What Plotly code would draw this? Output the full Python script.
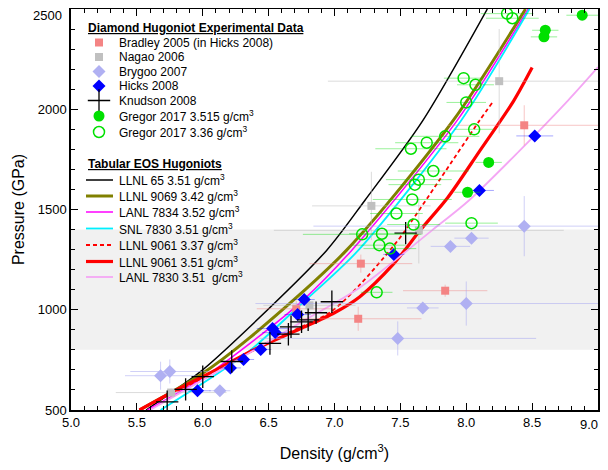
import plotly.graph_objects as go

# ~~~~~~~~~~~~~~~~~~~~~~~~~~~~~~~~~~~~~~~~~~~~~~~~~~~~~~~~~~~~~~~~~~~~~~~~~~~~~~
# experimental diamond Hugoniot points: density (g/cm3), pressure (GPa), errors
bradley_rho = [6.71, 7.18, 7.20, 7.84, 8.44]
bradley_p = [1005, 955, 1230, 1095, 1920]
bradley_drho = [0.30, 0.48, 0.39, 0.32, 0.58]
bradley_dp = [40, 60, 45, 30, 100]

nagao_rho = [5.76, 6.81, 7.28, 7.64, 8.25]
nagao_p = [587, 1022, 1518, 1396, 2140]
nagao_drho = [0.42, 0.35, 0.45, 1.10, 1.30]
nagao_dp = [20, 25, 170, 165, 260]

brygoo_rho = [5.68, 5.75, 6.13, 7.48, 7.67, 7.88, 8.00, 8.04, 8.44]
brygoo_p = [671, 692, 596, 857, 1009, 1316, 1031, 1357, 1417]
brygoo_drho = [0.27, 0.30, 0.08, 1.05, 0.12, 0.15, 1.60, 0.13, 1.60]
brygoo_dp = [70, 60, 10, 85, 15, 15, 110, 15, 150]

hicks_rho = [5.96, 6.21, 6.31, 6.44, 6.53, 6.55, 6.72, 6.77, 7.45, 8.10, 8.52]
hicks_p = [596, 710, 752, 802, 906, 886, 976, 1051, 1276, 1595, 1867]
hicks_drho = [0.10, 0.08, 0.08, 0.08, 0.12, 0.10, 0.10, 0.08, 0.08, 0.11, 0.14]

knudson_rho = [5.73, 5.87, 6.00, 6.22, 6.51, 6.65, 6.67, 6.75, 6.80, 6.86, 6.98, 7.54]
knudson_p = [541, 603, 666, 742, 832, 878, 915, 940, 950, 985, 1040, 1382]

gregor_hi_rho = [8.01, 8.17, 8.59, 8.60, 8.88]
gregor_hi_p = [1586, 1735, 2361, 2394, 2469]
gregor_hi_drho = [0.10, 0.10, 0.10, 0.10, 0.12]

gregor_lo_rho = [7.32, 7.42, 7.34, 7.36, 7.21, 7.60, 7.47, 7.59, 7.61, 7.64, 7.75,
                 7.58, 7.70, 7.84, 8.06, 8.04, 8.00, 7.98, 8.07, 8.31, 8.35]
gregor_lo_p = [1087, 1305, 1322, 1379, 1376, 1425, 1480, 1550, 1624, 1649, 1692,
               1803, 1833, 1865, 1900, 1432, 2034, 2155, 2122, 2477, 2454]
gregor_lo_drho = [0.12, 0.20, 0.20, 0.25, 0.45, 0.20, 0.20, 0.30, 0.20, 0.25, 0.27,
                  0.27, 0.24, 0.26, 0.15, 0.20, 0.15, 0.15, 0.14, 0.20, 0.20]

# tabular EOS Hugoniot curves
llnl65_rho = [5.57, 5.98, 6.33, 6.94, 7.23, 7.67, 8.16]
llnl65_p = [500, 690, 898, 1296, 1545, 1943, 2500]

llnl9069_rho = [5.52, 5.98, 6.35, 7.09, 7.90, 8.45]
llnl9069_p = [500, 674, 857, 1296, 1943, 2500]

lanl7834_rho = [5.58, 6.00, 6.50, 6.76, 7.13, 7.93, 8.47]
lanl7834_p = [500, 660, 905, 1047, 1296, 1943, 2500]

snl7830_rho = [5.68, 6.33, 6.75, 7.18, 7.96, 8.48]
snl7830_p = [500, 782, 1030, 1296, 1943, 2500]

llnl9061_337_rho = [5.52, 6.00, 6.50, 6.97, 7.20, 7.43, 7.51, 7.80, 8.10, 8.20]
llnl9061_337_p = [500, 660, 840, 989, 1130, 1304, 1371, 1650, 1943, 2035]

llnl9061_351_rho = [5.52, 5.80, 6.10, 6.40, 6.74, 7.00, 7.19, 7.45, 7.65, 7.86, 8.10, 8.36, 8.50]
llnl9061_351_p = [500, 600, 700, 805, 905, 985, 1064, 1230, 1396, 1560, 1790, 2042, 2208]

lanl7830_rho = [5.60, 6.20, 6.74, 7.19, 7.74, 8.02, 8.40, 8.77, 9.00]
lanl7830_p = [500, 725, 935, 1110, 1396, 1545, 1790, 2042, 2210]

band_p = [800, 1400]
x_ticks = [5.0, 5.5, 6.0, 6.5, 7.0, 7.5, 8.0, 8.5, 9.0]
y_ticks = [500, 1000, 1500, 2000, 2500]

# ~~~~~~~~~~~~~~~~~~~~~~~~~~~~~~~~~~~~~~~~~~~~~~~~~~~~~~~~~~~~~~~~~~~~~~~~~~~~~~
FONT = "Liberation Sans, Arial, sans-serif"
G3 = "g/cm<sup>3</sup>"

# page body has an 8px margin, so the figure is drawn 8px in from the window
PAGE_OFF = 8
BOX = dict(left=71, right=598, top=9, bottom=410)  # plot box in window pixels

curves = [
    ("LLNL 65 3.51 " + G3, llnl65_rho, llnl65_p, dict(color="black", width=1.5)),
    ("LLNL 9069 3.42 " + G3, llnl9069_rho, llnl9069_p, dict(color="#808000", width=3)),
    ("LANL 7834 3.52 " + G3, lanl7834_rho, lanl7834_p, dict(color="#ff00ff", width=1.5)),
    ("SNL 7830 3.51 " + G3, snl7830_rho, snl7830_p, dict(color="#00f0ff", width=1.8)),
    ("LLNL 9061 3.37 " + G3, llnl9061_337_rho, llnl9061_337_p,
     dict(color="#ff0000", width=1.8, dash="4px,3px")),
    ("LLNL 9061 3.51 " + G3, llnl9061_351_rho, llnl9061_351_p, dict(color="#ff0000", width=3.2)),
    ("LANL 7830 3.51  " + G3, lanl7830_rho, lanl7830_p, dict(color="#f4a6f4", width=1.8)),
]


def err(arr, color):
    return dict(type="data", array=arr, color=color, thickness=1, width=0)


points = [
    ("Bradley 2005 (in Hicks 2008)", bradley_rho, bradley_p,
     dict(symbol="square", size=8, color="#f48484"),
     err(bradley_drho, "rgba(240,128,128,0.45)"), err(bradley_dp, "rgba(240,128,128,0.45)")),
    ("Nagao 2006", nagao_rho, nagao_p,
     dict(symbol="square", size=8, color="#c0c0c0"),
     err(nagao_drho, "rgba(185,185,185,0.5)"), err(nagao_dp, "rgba(185,185,185,0.5)")),
    ("Brygoo 2007", brygoo_rho, brygoo_p,
     dict(symbol="diamond", size=10, color="#b0b0f2"),
     err(brygoo_drho, "rgba(170,170,240,0.55)"), err(brygoo_dp, "rgba(170,170,240,0.55)")),
    ("Hicks 2008", hicks_rho, hicks_p,
     dict(symbol="diamond", size=10, color="#0000ff"),
     err(hicks_drho, "rgba(0,0,255,0.35)"), None),
    ("Knudson 2008", knudson_rho, knudson_p,
     dict(symbol="cross-thin", size=16, color="black", line=dict(color="black", width=1.3)),
     None, None),
    ("Gregor 2017 3.515 " + G3, gregor_hi_rho, gregor_hi_p,
     dict(symbol="circle", size=11, color="#00e000"),
     err(gregor_hi_drho, "rgba(0,220,0,0.4)"), None),
    ("Gregor 2017 3.36 " + G3, gregor_lo_rho, gregor_lo_p,
     dict(symbol="circle-open", size=11, color="#00e000", line=dict(width=1.5)),
     err(gregor_lo_drho, "rgba(0,220,0,0.4)"), None),
]

fig = go.Figure()

for name, x, y, line in curves:
    fig.add_trace(go.Scatter(x=x, y=y, mode="lines", name=name,
                             line=dict(shape="spline", smoothing=0.8, **line), showlegend=False))

for name, x, y, marker, ex, ey in points:
    fig.add_trace(go.Scatter(x=x, y=y, mode="markers", name=name, marker=marker,
                             error_x=ex, error_y=ey, showlegend=False))

# ~~~~~~~~~~~~~~~~~~~~~~~~~~~~~~~~~~~~~~~~~~~~~~~~~~~~~~~~~~~~~~~~~~~~~~~~~~~~~~
# hand-made legend, positioned in window pixels on a hidden overlay axis pair
LEG1_Y = [42.5, 57, 71.5, 86, 100.5, 116, 132]
LEG2_Y = [180, 196, 212, 228.5, 245, 261.5, 277]
annotations = [
    dict(x=86, y=28, text="<b><u>Diamond Hugoniot Experimental Data</u></b>"),
    dict(x=86, y=164, text="<b><u>Tabular EOS Hugoniots</u></b>"),
]
for (name, x, y, marker, ex, ey), ly in zip(points, LEG1_Y):
    fig.add_trace(go.Scatter(x=[99], y=[ly], mode="markers", marker=marker, xaxis="x2", yaxis="y2",
                             showlegend=False, hoverinfo="skip"))
    annotations.append(dict(x=117, y=ly, text=name))
for (name, x, y, line), ly in zip(curves, LEG2_Y):
    fig.add_trace(go.Scatter(x=[86, 113], y=[ly, ly], mode="lines", line=line, xaxis="x2", yaxis="y2",
                             showlegend=False, hoverinfo="skip"))
    annotations.append(dict(x=117, y=ly, text=name))
for a in annotations:
    a.update(xref="x2", yref="y2", xanchor="left", yanchor="middle", showarrow=False,
             font=dict(family=FONT, size=12, color="black"))

# end tick labels sit at the page edges; nudge them inward so they stay whole
tick_font = dict(family=FONT, size=13, color="black")
annotations.append(dict(xref="paper", x=0, xanchor="right", xshift=-7, yref="y", y=y_ticks[-1],
                        yanchor="middle", yshift=-6, text=str(y_ticks[-1]), showarrow=False,
                        font=tick_font))
annotations.append(dict(xref="x", x=x_ticks[-1], xanchor="right", xshift=2, yref="paper", y=0,
                        yanchor="top", yshift=-5, text="%.1f" % x_ticks[-1], showarrow=False,
                        font=tick_font))

fig.add_shape(type="rect", xref="x domain", x0=0, x1=1, yref="y", y0=band_p[0], y1=band_p[1],
              fillcolor="#f1f1f1", line=dict(width=0), layer="below")

axis_common = dict(showline=True, linewidth=1.5, linecolor="black", mirror="allticks",
                   ticks="inside", ticklen=7, tickwidth=1.2, tickcolor="black",
                   showgrid=False, zeroline=False, ticklabeloverflow="allow",
                   tickfont=tick_font)

W, H = 608 - PAGE_OFF, 462 - PAGE_OFF
fig.update_layout(
    width=W, height=H,
    margin=dict(l=BOX["left"] - PAGE_OFF, r=W + PAGE_OFF - BOX["right"],
                t=BOX["top"] - PAGE_OFF, b=H + PAGE_OFF - BOX["bottom"], autoexpand=False),
    plot_bgcolor="white", paper_bgcolor="white",
    font=dict(family=FONT, color="black"),
    xaxis=dict(range=[5, 9], tickvals=x_ticks,
               ticktext=["%.1f" % v for v in x_ticks[:-1]] + [""],
               minor=dict(ticks="inside", ticklen=4, dtick=0.1, tickcolor="black"),
               title=dict(text="Density (g/cm<sup>3</sup>)", font=dict(family=FONT, size=16), standoff=18),
               **axis_common),
    yaxis=dict(range=[500, 2500], tickvals=y_ticks,
               ticktext=[str(v) for v in y_ticks[:-1]] + [""],
               minor=dict(ticks="inside", ticklen=4, dtick=100, tickcolor="black"),
               title=dict(text="Pressure (GPa)", font=dict(family=FONT, size=16), standoff=9),
               **axis_common),
    xaxis2=dict(range=[BOX["left"], BOX["right"]], overlaying="x", visible=False, fixedrange=True),
    yaxis2=dict(range=[BOX["bottom"], BOX["top"]], overlaying="y", visible=False, fixedrange=True),
    annotations=annotations,
    showlegend=False,
)

fig.write_html("out.html")
